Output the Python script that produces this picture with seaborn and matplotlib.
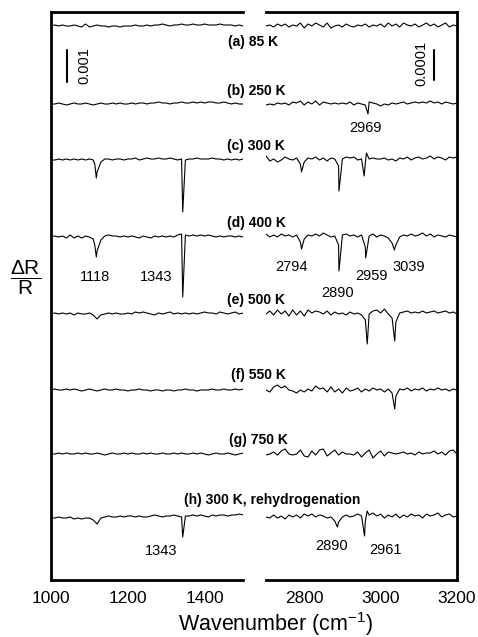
import numpy as np
import pandas as pd
import matplotlib
matplotlib.use("Agg")
import matplotlib.pyplot as plt
import seaborn as sns

sns.set_theme(style="white")
plt.rcParams["font.family"] = ["Liberation Sans", "DejaVu Sans"]
plt.rcParams["mathtext.fontset"] = "custom"
plt.rcParams["mathtext.rm"] = "Liberation Sans"
plt.rcParams["mathtext.it"] = "Liberation Sans:italic"
plt.rcParams["mathtext.bf"] = "Liberation Sans:bold"
plt.rcParams["text.color"] = "black"
plt.rcParams["xtick.color"] = "black"
plt.rcParams["xtick.labelcolor"] = "black"

# ---------------- data ----------------
spectra = ["a", "b", "c", "d", "e", "f", "g", "h"]
spectrum_labels = ["(a) 85 K", "(b) 250 K", "(c) 300 K", "(d) 400 K",
                   "(e) 500 K", "(f) 550 K", "(g) 750 K",
                   "(h) 300 K, rehydrogenation"]
# vertical stacking offsets (trace units; scale bar = 30 units)
offsets = [554, 476, 420, 343, 266, 190, 126, 63]

left_grid = np.arange(1000, 1501, 10)    # cm-1
right_grid = np.arange(2700, 3201, 10)   # cm-1

a_L = [0,1,0,1,0,0,1,0,-1,2, -1,0,1,0,0,-1,0,0,-1,0, 0,0,1,0,0,1,0,1,1,2, 1,0,1,1,2,1,1,2,1,1, 2,1,1,1,2,1,1,1,0,1, 0]
a_R = [0,1,-1,2,0,2,-1,1,0,3, -2,2,0,3,1,-1,3,-2,0,1, -1,2,0,-1,1,0,2,-1,1,0, 2,-1,3,0,2,-1,3,1,0,2, -1,1,3,0,2,-1,1,3,-1,1, 0]
b_L = [0,0,1,0,-1,0,1,0,0,1, 0,-1,0,1,0,0,1,0,1,0, 0,1,0,1,1,0,1,1,2,1, 1,0,1,1,2,1,1,2,1,2, 1,2,2,1,1,2,1,0,1,0, 0]
b_R = [-1,0,-1,1,0,1,-1,2,1,3, -1,2,0,3,-1,2,1,0,1,0, 1,0,2,-1,1,0,-1,2,1,0, -2,0,-1,1,0,1,2,0,1,2, 1,2,1,3,1,2,0,2,1,0, 1]
c_L = [0,0,1,0,1,0,1,0,1,0, 1,0,-12,-2,1,1,0,1,1,0, 1,1,2,0,1,2,1,1,2,1, 1,2,1,0,1,0,1,1,2,1, 1,1,2,1,1,0,1,0,1,0, 1]
c_R = [4,-1,1,-2,0,3,1,0,2,-4, -2,2,1,3,0,2,-1,2,1,-6, 1,3,2,3,0,1,-3,1,2,1, 1,2,0,1,-1,2,1,3,0,2, 3,1,2,4,1,3,2,0,3,2, 3]
d_L = [0,1,0,1,-1,2,-1,1,-1,1, 0,-2,-14,-3,1,2,1,1,0,1, 0,1,0,-1,1,0,-1,1,0,1, 0,1,0,2,3,2,1,2,1,2, 1,2,1,0,1,0,1,1,0,1, 0]
d_R = [3,0,2,0,3,1,2,0,2,-5, -2,2,1,3,1,4,2,0,1,-8, 2,3,1,2,0,2,-10,1,3,0, 2,1,-1,-6,-8,0,2,1,3,1, 2,4,1,3,0,2,1,0,2,1, 0]
e_L = [0,1,0,1,0,1,-1,1,0,0, 1,-1,-5,-1,0,1,0,1,0,0, 1,0,2,1,2,1,0,-1,1,0, 1,2,0,1,0,1,0,1,0,1, 2,1,1,0,2,1,0,1,2,0, 1]
e_R = [0,3,-1,4,0,3,-2,4,-1,3, -2,4,1,3,2,0,3,-1,2,0, 1,-1,2,0,1,-1,-6,0,3,4, 1,5,0,-4,-8,1,2,3,1,2, 1,3,1,2,3,1,2,3,1,2, 0]
f_L = [0,1,0,0,1,0,1,0,-1,0, 1,0,-1,0,1,0,0,1,0,0, -1,0,0,1,0,0,-1,0,0,-1, 0,0,-1,0,0,1,0,0,-1,0, 0,0,1,0,0,1,0,0,1,0, 1]
f_R = [0,-2,3,5,2,4,0,-1,-3,0, -2,1,-1,4,1,2,-2,3,-2,1, -3,2,-1,0,2,-2,1,-1,2,0, 1,-2,1,-3,-6,1,0,2,-1,1, 0,2,-1,1,0,2,0,1,-1,1, 0]
g_L = [0,0,1,0,1,0,0,1,0,1, 0,0,1,0,-1,0,1,0,0,1, 0,1,0,0,1,0,1,0,0,1, 0,0,1,0,1,0,0,1,0,1, 0,-1,0,1,0,0,1,0,-1,0, 1]
g_R = [-1,0,2,-1,3,5,0,-1,0,4, -2,-3,3,-1,4,5,-2,1,4,-1, 2,0,0,-1,2,-3,1,4,-4,0, 3,-2,2,1,0,1,2,0,1,-1, 2,0,1,1,3,0,2,-1,3,4, 0]
h_L = [-1,-1,0,-1,-1,0,-2,-1,-2,-1, -1,-3,-7,-1,0,1,0,0,1,0, 1,1,0,1,0,0,1,2,1,0, 1,1,2,1,0,1,1,2,1,2, 1,0,2,1,2,2,1,2,2,3, 2]
h_R = [0,-1,2,-1,1,-2,2,0,2,-1, 3,1,3,0,2,1,-1,0,-4,-5, 0,2,0,1,3,1,-4,2,4,1, 3,-1,2,0,3,-1,2,0,3,1, 2,-1,3,1,2,4,0,2,3,0, 1]

left_values = {"a": a_L, "b": b_L, "c": c_L, "d": d_L,
               "e": e_L, "f": f_L, "g": g_L, "h": h_L}
right_values = {"a": a_R, "b": b_R, "c": c_R, "d": d_R,
                "e": e_R, "f": f_R, "g": g_R, "h": h_R}

# absorption band points (wavenumber, value)
left_peaks = {
    "c": [(1114, -4), (1118, -18), (1343, -52)],
    "d": [(1114, -8), (1118, -20), (1343, -60)],
    "h": [(1343, -20)],
}
right_peaks = {
    "b": [(2967, -10)],
    "c": [(2793, -12), (2891, -31), (2957, -16), (2963, 7)],
    "d": [(2793, -12), (2891, -34), (2961, -21), (3036, -13)],
    "e": [(2965, -30), (3037, -27)],
    "f": [(3037, -19)],
    "h": [(2887, -10), (2958, -19), (2965, 6)],
}

# band annotations: (text, x px, y px)
band_labels = [("2969", 366, 128),
               ("1118", 95, 277), ("1343", 156, 277), ("2794", 291, 267),
               ("2890", 338, 293), ("2959", 372, 276), ("3039", 409, 267),
               ("1343", 161, 551), ("2890", 332, 546), ("2961", 386, 550)]
label_pos = [(253, 42), (256, 91), (256, 146), (256, 223), (256, 300),
             (258, 375), (258, 440), (272, 500)]

left_ticks = [1000, 1200, 1400]
right_ticks = [2800, 3000, 3200]


def build(grid, values, peaks):
    rows = []
    for s, off in zip(spectra, offsets):
        xs = list(grid)
        ys = list(values[s])
        for (px_, v) in peaks.get(s, []):
            xs.append(px_)
            ys.append(v)
        for xx, yy in zip(xs, ys):
            rows.append({"spectrum": s, "wavenumber": xx, "signal": off + yy})
    return pd.DataFrame(rows)


df_left = build(left_grid, left_values, left_peaks)
df_right = build(right_grid, right_values, right_peaks)

# ---------------- figure ----------------
W, H = 478, 637
fig = plt.figure(figsize=(W / 100, H / 100), dpi=100)


def fx(x):
    return x / W


def fy(y):
    return 1 - y / H


ax_top, ax_bot = 12, 580
axL = fig.add_axes([fx(51), fy(ax_bot), fx(243) - fx(51), fy(ax_top) - fy(ax_bot)])
axR = fig.add_axes([fx(266), fy(ax_bot), fx(457) - fx(266), fy(ax_top) - fy(ax_bot)])

for ax, df in ((axL, df_left), (axR, df_right)):
    for s in spectra:
        sub = df[df["spectrum"] == s]
        sns.lineplot(data=sub, x="wavenumber", y="signal", ax=ax,
                     color="black", lw=0.8, estimator=None, sort=True,
                     legend=False)
    ax.set_ylim(0, ax_bot - ax_top)
    ax.set_yticks([])
    ax.set_xlabel("")
    ax.set_ylabel("")
    ax.set_facecolor("white")
    for sp in ax.spines.values():
        sp.set_linewidth(2.0)
        sp.set_color("black")
    ax.tick_params(axis="x", which="major", direction="in", length=6.5,
                   width=1.5, labelsize=12.5, pad=8, colors="black")
    ax.tick_params(axis="x", which="minor", direction="in", length=3,
                   width=1.5, colors="black")

axL.set_xlim(1000, 1500)
axR.set_xlim(2700, 3200)
axL.set_xticks(left_ticks)
axL.set_xticks([1100, 1300, 1500], minor=True)
axR.set_xticks(right_ticks)
axR.set_xticks([2700, 2900, 3100], minor=True)
axL.spines["right"].set_visible(False)
axR.spines["left"].set_visible(False)

# scale bars (30 units = 0.001 left, 0.0001 right)
axL.plot([1041.5, 1041.5], [498, 530], color="black", lw=1.5)
axL.text(1087, 514, "0.001", rotation=90, ha="center", va="center", fontsize=10.5)
axR.plot([3140, 3140], [500, 530], color="black", lw=1.5)
axR.text(3107, 517, "0.0001", rotation=90, ha="center", va="center", fontsize=10.5)

# labels
for txt, (x, y) in zip(spectrum_labels, label_pos):
    fig.text(fx(x), fy(y), txt, ha="center", va="center", fontsize=10,
             fontweight="bold")
for txt, x, y in band_labels:
    fig.text(fx(x), fy(y), txt, ha="center", va="center", fontsize=10.5)

fig.text(fx(276), fy(631), r"Wavenumber (cm$^{-1}$)", ha="center",
         va="baseline", fontsize=15.5)
fig.text(fx(26), fy(278), r"$\dfrac{\Delta\mathrm{R}}{\mathrm{R}}$",
         ha="center", va="center", fontsize=15)

fig.savefig("out.png", dpi=100, facecolor="white")
